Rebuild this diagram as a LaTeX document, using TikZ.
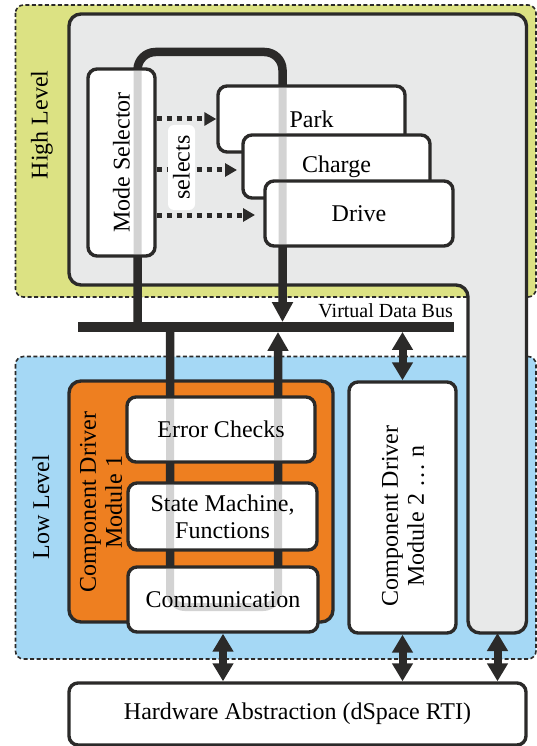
\documentclass[tikz,border=0pt]{standalone}
\usepackage{fontspec}
\setmainfont{Liberation Serif}
\usepackage{graphicx}
\usetikzlibrary{arrows.meta}
\definecolor{dk}{HTML}{2B2A29}
\definecolor{yel}{HTML}{DCE283}
\definecolor{blu}{HTML}{A5D8F5}
\definecolor{org}{HTML}{EE7F20}
\definecolor{gry}{HTML}{E8E9E9}
\definecolor{strip}{HTML}{D3D3D3}
\begin{document}
\begin{tikzpicture}[x=1pt,y=-1pt,
  region/.style={draw=dk, line width=1.6pt, dash pattern=on 4pt off 2.5pt, rounded corners=8pt},
  box/.style={draw=dk, line width=3.4pt, fill=white, rounded corners=9pt, inner sep=0pt,
              font=\fontsize{24}{27}\selectfont, align=center},
  loopline/.style={draw=dk, line width=8.5pt},
  ghost/.style={draw=strip, line width=8pt, blend mode=darken},
  dotarrow/.style={draw=dk, line width=5pt, dash pattern=on 5pt off 5pt,
                   -{Triangle[length=12pt,width=13pt]}},
  dbl/.style={draw=dk, line width=8pt,
              {Triangle[length=18pt,width=20pt]}-{Triangle[length=18pt,width=20pt]}},
  lbl/.style={font=\fontsize{24}{26}\selectfont, align=center, inner sep=0pt},
]
\useasboundingbox (0,0) rectangle (537,746);

% level regions
\draw[region, fill=yel] (15.5,5) rectangle (536,297);
\draw[region, fill=blu] (15.5,356.5) rectangle (536,659);

% high level container (L-shaped)
\draw[draw=dk, line width=3.4pt, fill=gry, rounded corners=12pt]
  (300,14) -- (526.5,14) -- (526.5,633) -- (468,633) -- (468,285) -- (69,285) -- (69,14) -- cycle;

% component driver module 1
\node[box, fill=org, rounded corners=12pt, minimum width=264pt, minimum height=241pt] (cd1) at (201,501.5) {};

% virtual data bus
\node[fill=dk, inner sep=0pt, minimum width=376pt, minimum height=9.5pt] (bus) at (266,327) {};

% data loops
\coordinate (hA) at (137.5,52);
\coordinate (hB) at (282.5,52);
\draw[loopline, rounded corners=18pt, -{Triangle[length=20pt,width=20pt]}]
  (bus.north -| hA) -- (hA) -- (hB) -- (bus.north -| hB);
\coordinate (lA) at (170,607);
\coordinate (lB) at (278,607);
\draw[loopline, rounded corners=15pt, -{Triangle[length=19pt,width=20pt]}]
  (bus.south -| lA) -- (lA) -- (lB) -- (bus.south -| lB);

% boxes
\node[box, minimum width=67pt, minimum height=187pt] (ms) at (121.5,162.5) {};
\node[box, minimum width=187pt, minimum height=66pt] (park) at (311.5,119) {Park};
\node[box, minimum width=187pt, minimum height=63pt] (charge) at (336.5,166.5) {Charge};
\node[box, minimum width=188pt, minimum height=65pt] (drive) at (359,213.5) {Drive};
\node[box, minimum width=188pt, minimum height=65pt] (err) at (221,429.5) {Error Checks};
\node[box, minimum width=189pt, minimum height=67pt] (sm) at (222.5,516.5) {State Machine,\\Functions};
\node[box, minimum width=190pt, minimum height=65pt] (comm) at (223,599.5) {Communication};
\node[box, minimum width=107pt, minimum height=251pt] (cd2) at (402.5,507.5) {};
\node[box, minimum width=457pt, minimum height=62pt] (hw) at (297.5,714) {Hardware Abstraction (dSpace RTI)};

% loops seen through the boxes
\draw[ghost, rounded corners=18pt] (137.5,255) -- (hA) -- (hB) -- (282.5,245);
\draw[ghost, rounded corners=15pt] (170,398) -- (lA) -- (lB) -- (278,398);

% selects arrows
\coordinate (c2) at (237,170);
\coordinate (c3) at (255,215);
\draw[dotarrow] (ms.east |- park.west) -- (park.west);
\draw[dotarrow] (ms.east |- c2) -- (c2);
\draw[dotarrow] (ms.east |- c3) -- (c3);
\node[fill=white, rounded corners=6pt, rotate=90, minimum width=85pt, minimum height=27pt,
      inner sep=0pt, font=\fontsize{24}{26}\selectfont] (sel) at (181.5,167.5) {selects};

% bus and hardware connections
\coordinate (colb) at (497.5,633);
\draw[dbl] (bus.south -| cd2) -- (cd2.north);
\draw[dbl] (comm.south) -- (comm.south |- hw.north);
\draw[dbl] (cd2.south) -- (cd2.south |- hw.north);
\draw[dbl] (colb) -- (colb |- hw.north);

% labels
\node[lbl, rotate=90] (hltxt) at (42,125) {High Level};
\node[lbl, rotate=90] (lltxt) at (41,507) {Low Level};
\node[lbl, rotate=90] (mstxt) at (ms) {Mode Selector};
\node[lbl, rotate=90] (cd1txt) at (101,502) {Component Driver\\Module 1};
\node[lbl, rotate=90] (cd2txt) at (403,516) {Component Driver\\Module 2 \ldots{} n};
\node[font=\fontsize{20}{22}\selectfont, anchor=base east, inner sep=0pt] (vdb) at (453,317) {Virtual Data Bus};
\end{tikzpicture}
\end{document}
